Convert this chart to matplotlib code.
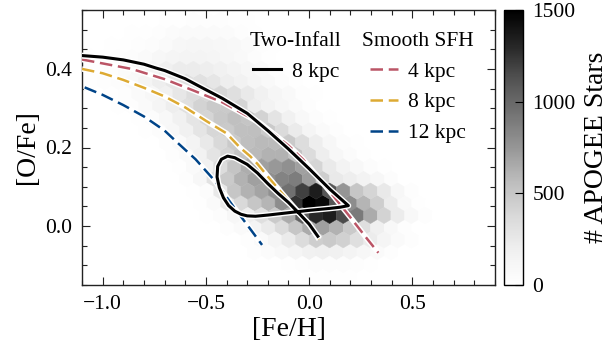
import numpy as np
import matplotlib
matplotlib.use("Agg")
import matplotlib.pyplot as plt
import matplotlib.patheffects as pe
from matplotlib.lines import Line2D
from matplotlib.ticker import MultipleLocator

plt.rcParams['font.family'] = ['Liberation Serif', 'DejaVu Serif']
plt.rcParams['mathtext.fontset'] = 'stix'

# ---------------- data: APOGEE hexbin counts (rows bottom -> top) ----------------
hex_row_start = [-2, -4, -5, -6, -7, -9, -9, -10, -10, -10, -10, -11, -12, -13, -14, -15, -16, -17, -17, -16, -14, -13]
hex_row_counts = [
    [5, 10, 15, 20, 20, 15, 10, 5],
    [5, 10, 20, 30, 40, 45, 40, 30, 20, 10, 5],
    [10, 25, 50, 90, 130, 170, 190, 180, 140, 100, 60, 30, 10],
    [10, 30, 70, 130, 230, 350, 450, 480, 430, 330, 220, 130, 60, 25, 10],
    [10, 30, 70, 140, 230, 350, 500, 650, 700, 620, 480, 330, 190, 90, 35, 10],
    [5, 15, 40, 100, 200, 330, 480, 650, 1050, 1300, 1350, 1150, 900, 650, 420, 220, 90, 30, 10],
    [8, 20, 60, 250, 380, 500, 600, 800, 1250, 1500, 1450, 1100, 800, 600, 450, 220, 80, 20, 5],
    [10, 20, 40, 250, 500, 620, 680, 780, 950, 1200, 1350, 1100, 750, 500, 400, 250, 100, 30, 10],
    [10, 30, 100, 300, 480, 620, 700, 780, 850, 880, 720, 450, 250, 200, 150, 100, 40, 10],
    [20, 60, 170, 350, 520, 640, 700, 740, 780, 700, 400, 240, 150, 90, 40, 15],
    [25, 70, 160, 290, 420, 520, 580, 620, 620, 520, 350, 200, 110, 50, 20, 5],
    [25, 70, 140, 250, 380, 480, 550, 580, 570, 480, 340, 200, 100, 45, 15, 5],
    [20, 45, 100, 180, 280, 390, 480, 540, 550, 480, 360, 230, 130, 65, 25, 10, 5],
    [18, 40, 85, 170, 280, 400, 490, 540, 510, 420, 290, 170, 90, 45, 15, 5, 2],
    [18, 32, 70, 130, 210, 320, 420, 480, 480, 400, 200, 150, 100, 60, 30, 10, 3],
    [18, 32, 60, 110, 180, 260, 340, 390, 390, 330, 250, 180, 120, 75, 35, 15, 5],
    [18, 26, 45, 80, 135, 200, 265, 310, 310, 270, 210, 160, 115, 72, 40, 20, 8],
    [15, 22, 35, 55, 90, 140, 190, 220, 225, 200, 170, 135, 95, 60, 30, 12, 5],
    [10, 15, 20, 30, 45, 70, 100, 130, 145, 145, 130, 105, 75, 45, 20, 8],
    [8, 12, 18, 28, 45, 70, 95, 115, 120, 110, 90, 60, 35, 15],
    [8, 12, 20, 32, 48, 60, 65, 60, 50, 35, 20, 10],
    [6, 10, 15, 22, 28, 30, 28, 22, 14, 8],
]

# ---------------- data: model tracks ----------------
two_infall_feh = [-1.10, -1.0, -0.9, -0.8, -0.74, -0.70, -0.6, -0.536, -0.42, -0.3, -0.2, -0.1, 0.0, 0.1, 0.19,
                  0.15, 0.10, 0.0, -0.1, -0.2, -0.26, -0.30, -0.33, -0.36, -0.39, -0.415, -0.435, -0.446, -0.443,
                  -0.425, -0.395, -0.36, -0.30, -0.25, -0.20, -0.15, -0.10, -0.05, 0.0, 0.042]
two_infall_ofe = [0.434, 0.430, 0.423, 0.412, 0.402, 0.396, 0.375, 0.357, 0.325, 0.287, 0.243, 0.196, 0.146, 0.094, 0.052,
                  0.048, 0.045, 0.040, 0.034, 0.028, 0.025, 0.026, 0.030, 0.038, 0.052, 0.072, 0.098, 0.125, 0.152,
                  0.170, 0.178, 0.174, 0.157, 0.135, 0.108, 0.083, 0.060, 0.033, 0.005, -0.026]

smooth_4_feh = [-1.10, -1.0, -0.86, -0.70, -0.56, -0.42, -0.24, -0.1, -0.03, 0.1, 0.2, 0.28, 0.335]
smooth_4_ofe = [0.424, 0.414, 0.400, 0.374, 0.345, 0.315, 0.263, 0.205, 0.170, 0.088, 0.022, -0.032, -0.068]

smooth_8_feh = [-1.10, -1.0, -0.9, -0.8, -0.7, -0.6, -0.5, -0.4, -0.335, -0.286, -0.25, -0.2, -0.15, -0.1, -0.05, 0.0, 0.048]
smooth_8_ofe = [0.400, 0.389, 0.372, 0.352, 0.330, 0.302, 0.268, 0.236, 0.200, 0.178, 0.158, 0.126, 0.095, 0.064, 0.034, 0.005, -0.034]

smooth_12_feh = [-1.087, -1.0, -0.9, -0.8, -0.7, -0.633, -0.55, -0.455, -0.422, -0.37, -0.3, -0.228]
smooth_12_ofe = [0.353, 0.334, 0.308, 0.279, 0.243, 0.210, 0.170, 0.114, 0.090, 0.052, 0.003, -0.048]

x_ticks = [-1.0, -0.5, 0.0, 0.5]
y_ticks = [0.0, 0.2, 0.4]
cbar_ticks = [0, 500, 1000, 1500]

# ---------------- figure ----------------
W, H = 614, 345
fig = plt.figure(figsize=(W / 100, H / 100), dpi=100)
ax = fig.add_axes([82 / W, 1 - 285 / H, 413 / W, 275 / H])
cax = fig.add_axes([504 / W, 1 - 285 / H, 18.5 / W, 275 / H])

SX, SY = 0.066, 0.062
XMIN, YMIN = -17 * SX, -0.128
NX, NY = 28, 11
xs, ys, cs = [], [], []
for r, (k0, counts) in enumerate(zip(hex_row_start, hex_row_counts)):
    m, odd = divmod(r, 2)
    for j, c in enumerate(counts):
        i = k0 + j + 17
        xs.append(XMIN + (i + 0.5 * odd) * SX)
        ys.append(YMIN + (m + 0.5 * odd) * SY)
        cs.append(c)

hb = ax.hexbin(xs, ys, C=cs, reduce_C_function=np.sum, gridsize=(NX, NY),
               extent=(XMIN, XMIN + NX * SX, YMIN, YMIN + NY * SY),
               cmap='Greys', vmin=0, vmax=1500, linewidths=0.3, edgecolors='face', zorder=1)

col4, col8, col12 = '#BB5566', '#DDAA33', '#004488'
dash = (5.0, 2.3)
for fx, fy, col, z in [(smooth_12_feh, smooth_12_ofe, col12, 2),
                       (smooth_8_feh, smooth_8_ofe, col8, 3),
                       (smooth_4_feh, smooth_4_ofe, col4, 4)]:
    ax.plot(fx, fy, color='white', lw=4.0, solid_capstyle='butt', zorder=z)
    ax.plot(fx, fy, color=col, lw=1.8, dashes=dash, zorder=z + 0.1)

ax.plot(two_infall_feh, two_infall_ofe, color='black', lw=2.2, zorder=6,
        path_effects=[pe.Stroke(linewidth=4.2, foreground='white'), pe.Normal()])

ax.set_xlim(-1.1, 0.9)
ax.set_ylim(-0.15, 0.55)
ax.set_xticks(x_ticks)
ax.set_yticks(y_ticks)
ax.set_xticklabels([f"{v:.1f}".replace('-', '\u2212') for v in x_ticks])
ax.set_yticklabels([f"{v:.1f}" for v in y_ticks])
ax.xaxis.set_minor_locator(MultipleLocator(0.1))
ax.yaxis.set_minor_locator(MultipleLocator(0.05))
ax.tick_params(which='both', direction='in', top=True, right=True, labelsize=15.5, width=0.8, color='#222222')
ax.tick_params(which='major', length=6, pad=7)
ax.tick_params(which='minor', length=3.5)
for s in ax.spines.values():
    s.set_linewidth(1.0)
    s.set_color('#222222')
ax.set_xlabel('[Fe/H]', fontsize=20, labelpad=2)
ax.set_ylabel('[O/Fe]', fontsize=20, labelpad=4)

# legends
h_ti = [Line2D([], [], color='black', lw=2.2)]
leg1 = ax.legend(h_ti, ['8 kpc'], title='Two-Infall', loc='upper left', bbox_to_anchor=(0.381, 0.96),
                 frameon=False, fontsize=15.5, title_fontsize=15.5, borderpad=0, handlelength=1.3,
                 handletextpad=0.5, labelspacing=0.5)
ax.add_artist(leg1)
h_sm = [Line2D([], [], color=c, lw=1.8, dashes=dash) for c in (col4, col8, col12)]
leg2 = ax.legend(h_sm, ['4 kpc', '8 kpc', '12 kpc'], title='Smooth SFH', loc='upper left',
                 bbox_to_anchor=(0.652, 0.96), frameon=False, fontsize=15.5, title_fontsize=15.5,
                 borderpad=0, handlelength=1.3, handletextpad=0.5, labelspacing=0.5)
for lg in (leg1, leg2):
    lg.set_zorder(10)

cb = fig.colorbar(hb, cax=cax, ticks=cbar_ticks)
cb.outline.set_linewidth(1.0)
cax.tick_params(direction='in', length=6, width=0.8, labelsize=15.5, pad=7)
cax.minorticks_off()
cb.set_label('# APOGEE Stars', fontsize=20, labelpad=6)

fig.savefig('out.png', dpi=100)
